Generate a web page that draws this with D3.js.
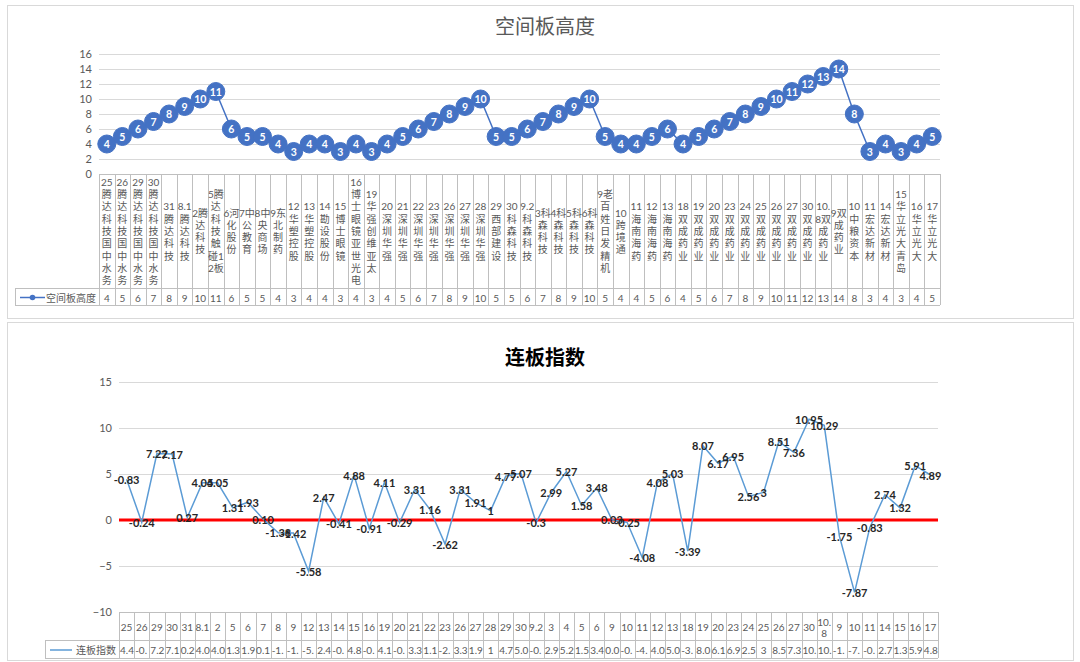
<!DOCTYPE html>
<html>
<head>
<meta charset="utf-8">
<script src="https://cdn.jsdelivr.net/npm/d3@7"></script>
<style>
  body { margin: 0; background: #fff; }
  svg { display: block; font-family: Lato, "Noto Sans CJK SC", sans-serif; }
</style>
</head>
<body>
<div id="root"></div>
<script>
// ---- data: 空间板高度 ----
const heightCats = [
  "25腾达科技国中水务", "26腾达科技国中水务", "29腾达科技国中水务", "30腾达科技国中水务",
  "31腾达科技", "8.1腾达科技", "2腾达科技", "5腾达科技触碰12板", "6河化股份", "7中公教育",
  "8中央商场", "9东北制药", "12华塑控股", "13华塑控股", "14勘设股份", "15博士眼镜",
  "16博士眼镜亚世光电", "19华强创维亚太", "20深圳华强", "21深圳华强", "22深圳华强",
  "23深圳华强", "26深圳华强", "27深圳华强", "28深圳华强", "29西部建设", "30科森科技",
  "9.2科森科技", "3科森科技", "4科森科技", "5科森科技", "6科森科技", "9老百姓日发精机",
  "10跨境通", "11海南海药", "12海南海药", "13海南海药", "18双成药业", "19双成药业",
  "20双成药业", "23双成药业", "24双成药业", "25双成药业", "26双成药业", "27双成药业",
  "30双成药业", "10.8双成药业", "9双成药业", "10中粮资本", "11宏达新材", "14宏达新材",
  "15华立光大青岛", "16华立光大", "17华立光大"
];
const heightValues = [
  4, 5, 6, 7, 8, 9, 10, 11, 6, 5, 5, 4, 3, 4, 4, 3, 4, 3, 4, 5, 6, 7, 8, 9, 10, 5, 5, 6,
  7, 8, 9, 10, 5, 4, 4, 5, 6, 4, 5, 6, 7, 8, 9, 10, 11, 12, 13, 14, 8, 3, 4, 3, 4, 5
];
const heightTicks = [0, 2, 4, 6, 8, 10, 12, 14, 16];

// ---- data: 连板指数 ----
const indexCats = [
  "25", "26", "29", "30", "31", "8.1", "2", "5", "6", "7", "8", "9", "12", "13", "14", "15",
  "16", "19", "20", "21", "22", "23", "26", "27", "28", "29", "30", "9.2", "3", "4", "5", "6",
  "9", "10", "11", "12", "13", "18", "19", "20", "23", "24", "25", "26", "27", "30", "10.8",
  "9", "10", "11", "14", "15", "16", "17"
];
const indexValues = [
  4.43, -0.24, 7.22, 7.17, 0.27, 4.05, 4.05, 1.31, 1.93, 0.1, -1.38, -1.42, -5.58, 2.47,
  -0.41, 4.88, -0.91, 4.11, -0.29, 3.31, 1.16, -2.62, 3.31, 1.91, 1, 4.77, 5.07, -0.3,
  2.99, 5.27, 1.58, 3.48, 0.03, -0.25, -4.08, 4.08, 5.03, -3.39, 8.07, 6.17, 6.95, 2.56,
  3, 8.51, 7.36, 10.95, 10.29, -1.75, -7.87, -0.83, 2.74, 1.32, 5.91, 4.89
];
const indexLabels = [
  "-0.83", "-0.24", "7.22", "7.17", "0.27", "4.05", "4.05", "1.31", "1.93", "0.10", "-1.38",
  "-1.42", "-5.58", "2.47", "-0.41", "4.88", "-0.91", "4.11", "-0.29", "3.31", "1.16",
  "-2.62", "3.31", "1.91", "1", "4.77", "5.07", "-0.3", "2.99", "5.27", "1.58", "3.48",
  "0.03", "-0.25", "-4.08", "4.08", "5.03", "-3.39", "8.07", "6.17", "6.95", "2.56", "3",
  "8.51", "7.36", "10.95", "10.29", "-1.75", "-7.87", "-0.83", "2.74", "1.32", "5.91", "4.89"
];
const indexTicks = [-10, -5, 0, 5, 10, 15];

const W = 1080, H = 662;
const tableFont = "10px Lato, 'Noto Sans CJK SC'";
const ctx = document.createElement("canvas").getContext("2d");
ctx.font = tableFont;
const textW = (s) => ctx.measureText(s).width;

// break a label into lines that fit a narrow cell, char by char
function wrapChars(str, maxW) {
  const lines = [];
  let cur = "";
  for (const ch of str) {
    if (cur && textW(cur + ch) > maxW) { lines.push(cur); cur = ch; }
    else cur += ch;
  }
  if (cur) lines.push(cur);
  return lines;
}

// cut a number string until it fits (Excel-like clipping)
function fitText(str, maxW) {
  let s = str;
  while (s.length > 1 && textW(s) > maxW) s = s.slice(0, -1);
  return s;
}

const svg = d3.select("#root").append("svg")
  .attr("width", W).attr("height", H)
  .attr("viewBox", [0, 0, W, H]);

// panels
svg.append("rect").attr("x", 7.5).attr("y", 5.5).attr("width", 1066).attr("height", 313)
  .attr("fill", "#fff").attr("stroke", "#d9d9d9");
svg.append("rect").attr("x", 7.5).attr("y", 322.5).attr("width", 1066).attr("height", 338)
  .attr("fill", "#fff").attr("stroke", "#d9d9d9");

const gridColor = "#d9d9d9", tableColor = "#bfbfbf", textColor = "#595959";

// ================= top chart =================
{
  const left = 99, right = 940, top = 54, bottom = 174;
  const rowCatBottom = 288, rowValBottom = 305;

  svg.append("text")
    .attr("x", 545).attr("y", 26)
    .attr("text-anchor", "middle").attr("dominant-baseline", "central")
    .attr("font-size", 20).attr("fill", textColor)
    .text("空间板高度");

  const x = d3.scaleBand().domain(d3.range(heightCats.length)).range([left, right]);
  const y = d3.scaleLinear().domain([0, 16]).range([bottom, top]);

  const yAxis = svg.append("g")
    .attr("transform", `translate(${left},0)`)
    .call(d3.axisLeft(y).tickValues(heightTicks).tickSize(-(right - left)).tickPadding(7));
  yAxis.select(".domain").remove();
  yAxis.selectAll(".tick line").attr("stroke", (d) => d === 0 ? tableColor : gridColor);
  yAxis.selectAll(".tick text").attr("fill", textColor).attr("font-size", 11)
    .attr("font-family", "Lato, 'Noto Sans CJK SC'");

  // table
  const t = svg.append("g").attr("stroke", tableColor).attr("fill", "none");
  t.append("line").attr("x1", 15).attr("x2", right).attr("y1", rowCatBottom + 0.5).attr("y2", rowCatBottom + 0.5);
  t.append("line").attr("x1", 15).attr("x2", right).attr("y1", rowValBottom + 0.5).attr("y2", rowValBottom + 0.5);
  t.append("line").attr("x1", 15.5).attr("x2", 15.5).attr("y1", rowCatBottom).attr("y2", rowValBottom);
  t.selectAll(".vline").data(d3.range(heightCats.length + 1)).enter().append("line")
    .attr("x1", (i) => Math.round(left + i * x.bandwidth()) + 0.5)
    .attr("x2", (i) => Math.round(left + i * x.bandwidth()) + 0.5)
    .attr("y1", bottom).attr("y2", rowValBottom);

  const lineH = 12.3;
  const catG = svg.append("g").attr("fill", textColor).attr("font-size", 10);
  heightCats.forEach((c, i) => {
    const lines = wrapChars(c, x.bandwidth() + 1.5);
    const cy = (bottom + rowCatBottom) / 2;
    const y0 = cy - (lines.length - 1) * lineH / 2;
    const tx = catG.append("text")
      .attr("text-anchor", "middle").attr("dominant-baseline", "central");
    lines.forEach((ln, k) => {
      tx.append("tspan").attr("x", x(i) + x.bandwidth() / 2).attr("y", y0 + k * lineH).text(ln);
    });
  });

  svg.append("g").attr("fill", textColor).attr("font-size", 10)
    .selectAll("text").data(heightValues).enter().append("text")
    .attr("x", (d, i) => x(i) + x.bandwidth() / 2)
    .attr("y", (rowCatBottom + rowValBottom) / 2 + 1)
    .attr("text-anchor", "middle").attr("dominant-baseline", "central")
    .text((d) => d);

  // legend cell
  const ly = (rowCatBottom + rowValBottom) / 2 + 1;
  svg.append("line").attr("x1", 20).attr("x2", 45).attr("y1", ly).attr("y2", ly)
    .attr("stroke", "#4472c4").attr("stroke-width", 1.5);
  svg.append("circle").attr("cx", 32.5).attr("cy", ly).attr("r", 2.8).attr("fill", "#4472c4");
  svg.append("text").attr("x", 96).attr("y", ly).attr("text-anchor", "end")
    .attr("dominant-baseline", "central").attr("font-size", 10).attr("fill", textColor)
    .text("空间板高度");

  // line + markers
  const line = d3.line().x((d, i) => x(i) + x.bandwidth() / 2).y((d) => y(d));
  svg.append("path").datum(heightValues)
    .attr("fill", "none").attr("stroke", "#4472c4").attr("stroke-width", 1.5)
    .attr("d", line);

  const mk = svg.append("g").selectAll("g").data(heightValues).enter().append("g")
    .attr("transform", (d, i) => `translate(${x(i) + x.bandwidth() / 2},${y(d)})`);
  mk.append("circle").attr("r", 9).attr("fill", "#4472c4").attr("stroke", "#4472c4");
  mk.append("text").attr("text-anchor", "middle").attr("dominant-baseline", "central")
    .attr("fill", "#fff").attr("font-size", 10.5).attr("font-weight", "bold")
    .text((d) => d);
}

// ================= bottom chart =================
{
  const left = 119, right = 938, top = 382, bottom = 612;
  const rowCatBottom = 640, rowValBottom = 658;

  svg.append("text")
    .attr("x", 545).attr("y", 357)
    .attr("text-anchor", "middle").attr("dominant-baseline", "central")
    .attr("font-size", 20).attr("font-weight", "bold").attr("fill", "#000")
    .text("连板指数");

  const x = d3.scaleBand().domain(d3.range(indexCats.length)).range([left, right]);
  const y = d3.scaleLinear().domain([-10, 15]).range([bottom, top]);

  const yAxis = svg.append("g")
    .attr("transform", `translate(${left},0)`)
    .call(d3.axisLeft(y).tickValues(indexTicks).tickSize(-(right - left)).tickPadding(7));
  yAxis.select(".domain").remove();
  yAxis.selectAll(".tick line").attr("stroke", (d) => d === -10 ? tableColor : gridColor);
  yAxis.selectAll(".tick text").attr("fill", textColor).attr("font-size", 11)
    .attr("font-family", "Lato, 'Noto Sans CJK SC'");

  // zero reference line
  svg.append("line").attr("x1", left).attr("x2", right)
    .attr("y1", y(0)).attr("y2", y(0))
    .attr("stroke", "#ff0000").attr("stroke-width", 3);

  // table
  const t = svg.append("g").attr("stroke", tableColor).attr("fill", "none");
  t.append("line").attr("x1", 45).attr("x2", right).attr("y1", rowCatBottom + 0.5).attr("y2", rowCatBottom + 0.5);
  t.append("line").attr("x1", 45).attr("x2", right).attr("y1", rowValBottom + 0.5).attr("y2", rowValBottom + 0.5);
  t.append("line").attr("x1", 45.5).attr("x2", 45.5).attr("y1", rowCatBottom).attr("y2", rowValBottom);
  t.selectAll(".vline").data(d3.range(indexCats.length + 1)).enter().append("line")
    .attr("x1", (i) => Math.round(left + i * x.bandwidth()) + 0.5)
    .attr("x2", (i) => Math.round(left + i * x.bandwidth()) + 0.5)
    .attr("y1", bottom).attr("y2", rowValBottom);

  const lineH = 11;
  const catG = svg.append("g").attr("fill", textColor).attr("font-size", 10);
  indexCats.forEach((c, i) => {
    const lines = wrapChars(c, x.bandwidth() + 1.5);
    const cy = (bottom + rowCatBottom) / 2 + 1;
    const y0 = cy - (lines.length - 1) * lineH / 2;
    const tx = catG.append("text")
      .attr("text-anchor", "middle").attr("dominant-baseline", "central");
    lines.forEach((ln, k) => {
      tx.append("tspan").attr("x", x(i) + x.bandwidth() / 2).attr("y", y0 + k * lineH).text(ln);
    });
  });

  const valG = svg.append("g").attr("fill", textColor).attr("font-size", 10);
  indexValues.forEach((v, i) => {
    const full = String(v);
    const maxW = x.bandwidth() - 1;
    const fits = textW(full) <= maxW;
    valG.append("text")
      .attr("x", fits ? x(i) + x.bandwidth() / 2 : x(i) + 1)
      .attr("y", (rowCatBottom + rowValBottom) / 2 + 1)
      .attr("text-anchor", fits ? "middle" : "start")
      .attr("dominant-baseline", "central")
      .text(fits ? full : fitText(full, maxW));
  });

  // legend cell
  const ly = (rowCatBottom + rowValBottom) / 2 + 1;
  svg.append("line").attr("x1", 50).attr("x2", 72).attr("y1", ly).attr("y2", ly)
    .attr("stroke", "#5b9bd5").attr("stroke-width", 1.5);
  svg.append("text").attr("x", 116).attr("y", ly).attr("text-anchor", "end")
    .attr("dominant-baseline", "central").attr("font-size", 10).attr("fill", textColor)
    .text("连板指数");

  // series line
  const line = d3.line().x((d, i) => x(i) + x.bandwidth() / 2).y((d) => y(d));
  svg.append("path").datum(indexValues)
    .attr("fill", "none").attr("stroke", "#5b9bd5").attr("stroke-width", 1.5)
    .attr("d", line);

  // data labels centred on points
  svg.append("g").selectAll("text").data(indexValues).enter().append("text")
    .attr("x", (d, i) => x(i) + x.bandwidth() / 2)
    .attr("y", (d) => y(d))
    .attr("text-anchor", "middle").attr("dominant-baseline", "central")
    .attr("font-size", 11).attr("font-weight", "bold").attr("fill", "#262626")
    .text((d, i) => indexLabels[i]);
}
</script>
</body>
</html>
